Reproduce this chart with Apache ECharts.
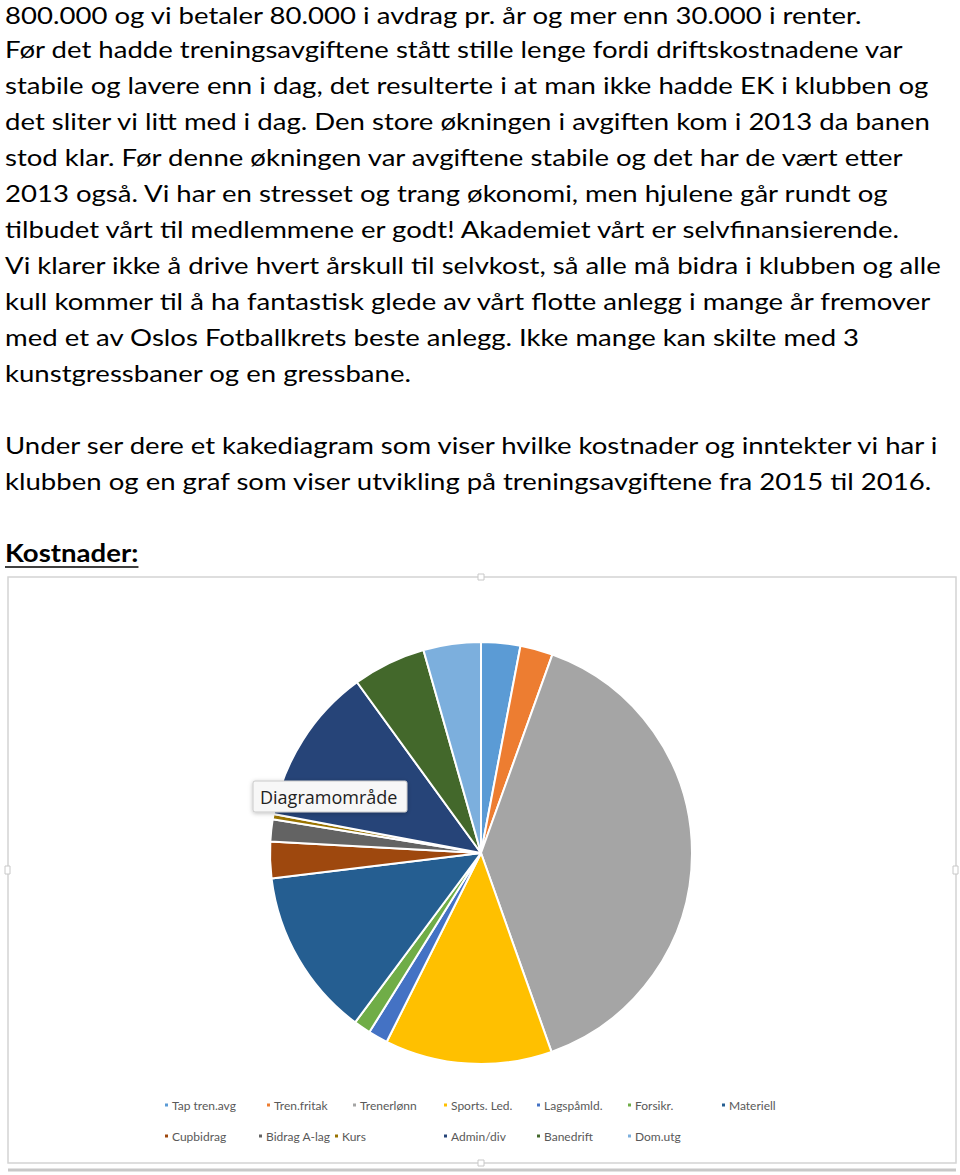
<!DOCTYPE html>
<html>
<head>
<meta charset="utf-8">
<script src="https://cdn.jsdelivr.net/npm/echarts@6/dist/echarts.min.js"></script>
<style>
html,body{margin:0;padding:0;background:#fff;}
#main{width:960px;height:1175px;}
</style>
</head>
<body>
<div id="main"></div>
<script>
// ---- data ----
var categories = ['Tap tren.avg','Tren.fritak','Trenerlønn','Sports. Led.','Lagspåmld.','Forsikr.','Materiell','Cupbidrag','Bidrag A-lag','Kurs','Admin/div','Banedrift','Dom.utg'];
var values = [3.0, 2.5, 39.1, 12.8, 1.5, 1.3, 12.9, 2.8, 1.7, 0.4, 12.05, 5.6, 4.4];
var colors = ['#5B9BD5','#ED7D31','#A5A5A5','#FFC000','#4472C4','#70AD47','#255E91','#9E480E','#636363','#997300','#264478','#43682B','#7CAFDD'];
var bodyLines = [
 '800.000 og vi betaler 80.000 i avdrag pr. år og mer enn 30.000 i renter.',
 'Før det hadde treningsavgiftene stått stille lenge fordi driftskostnadene var',
 'stabile og lavere enn i dag, det resulterte i at man ikke hadde EK i klubben og',
 'det sliter vi litt med i dag. Den store økningen i avgiften kom i 2013 da banen',
 'stod klar. Før denne økningen var avgiftene stabile og det har de vært etter',
 '2013 også. Vi har en stresset og trang økonomi, men hjulene går rundt og',
 'tilbudet vårt til medlemmene er godt! Akademiet vårt er selvfinansierende.',
 'Vi klarer ikke å drive hvert årskull til selvkost, så alle må bidra i klubben og alle',
 'kull kommer til å ha fantastisk glede av vårt flotte anlegg i mange år fremover',
 'med et av Oslos Fotballkrets beste anlegg. Ikke mange kan skilte med 3',
 'kunstgressbaner og en gressbane.',
 '',
 'Under ser dere et kakediagram som viser hvilke kostnader og inntekter vi har i',
 'klubben og en graf som viser utvikling på treningsavgiftene fra 2015 til 2016.'
];
var heading = 'Kostnader:';
var tooltipLabel = 'Diagramområde';

// ---- layout helpers ----
var FONT = 'Lato';
var FS = 24;
var cv = document.createElement('canvas').getContext('2d');
cv.font = FS + 'px ' + FONT;
var sx = 900 / cv.measureText(bodyLines[1]).width;

var graphics = [];
bodyLines.forEach(function(t, i){
  if(!t) return;
  graphics.push({type:'text', x:5, y:(i === 0 ? 15 : 13 + i*36), scaleX:sx, silent:true,
    style:{text:t, fontFamily:FONT, fontSize:FS, fill:'#000', verticalAlign:'middle'}});
});
cv.font = 'bold ' + FS + 'px ' + FONT;
var hw = cv.measureText(heading).width * sx;
graphics.push({type:'text', x:5, y:553, scaleX:sx, silent:true,
  style:{text:heading, fontFamily:FONT, fontWeight:'bold', fontSize:FS, fill:'#000', verticalAlign:'middle'}});
graphics.push({type:'line', silent:true, shape:{x1:5,y1:567,x2:5+hw,y2:567}, style:{stroke:'#000', lineWidth:1.5}});
// chart frame
graphics.push({type:'rect', silent:true, z:-1, shape:{x:8,y:577,width:948,height:586}, style:{fill:'#fff', stroke:'#d4d4d4', lineWidth:1.5}});
graphics.push({type:'rect', silent:true, shape:{x:478,y:574,width:6,height:6}, style:{fill:'#fff', stroke:'#c8c8c8', lineWidth:1}});
graphics.push({type:'rect', silent:true, shape:{x:478,y:1160,width:6,height:6}, style:{fill:'#fff', stroke:'#c8c8c8', lineWidth:1}});
graphics.push({type:'rect', silent:true, shape:{x:5,y:866,width:5,height:8}, style:{fill:'#fff', stroke:'#c8c8c8', lineWidth:1}});
graphics.push({type:'rect', silent:true, shape:{x:953,y:866,width:5,height:8}, style:{fill:'#fff', stroke:'#c8c8c8', lineWidth:1}});
graphics.push({type:'line', silent:true, shape:{x1:8,y1:1170,x2:956,y2:1170}, style:{stroke:'#c8c8c8', lineWidth:3}});
// hover tooltip box
graphics.push({type:'rect', silent:true, z:100, shape:{x:253,y:781,width:154,height:31,r:2},
  style:{fill:'#f7f7f7', stroke:'#c9c9c9', lineWidth:1, shadowBlur:4, shadowColor:'rgba(0,0,0,0.25)', shadowOffsetY:1}});
graphics.push({type:'text', silent:true, z:101, x:260, y:797,
  style:{text:tooltipLabel, fontFamily:'Open Sans', fontSize:18, fill:'#222', verticalAlign:'middle'}});

// legends: Excel-like column layout
var legendPos = [
 [163,1107],[265,1107],[351,1107],[442,1107],[535,1107],[626,1107],[720,1107],
 [163,1138],[257,1138],[333,1138],[442,1138],[535,1138],[626,1138]
];
var legends = categories.map(function(c, i){
  return {data:[c], left:legendPos[i][0], top:legendPos[i][1]-8, icon:'rect', itemWidth:5, itemHeight:5, itemGap:0,
    padding:0, selectedMode:false, textStyle:{fontFamily:FONT, fontSize:12, color:'#595959', padding:[0,0,0,-2]}};
});

var chart = echarts.init(document.getElementById('main'), null, {renderer:'svg'});
chart.setOption({
  animation:false,
  color:colors,
  legend:legends,
  graphic:graphics,
  series:[{
    type:'pie',
    center:[481,853],
    radius:[0,211],
    startAngle:90,
    clockwise:true,
    avoidLabelOverlap:false,
    label:{show:false},
    labelLine:{show:false},
    itemStyle:{borderColor:'#fff', borderWidth:2},
    data:categories.map(function(c,i){return {name:c, value:values[i]};})
  }]
});
</script>
</body>
</html>
